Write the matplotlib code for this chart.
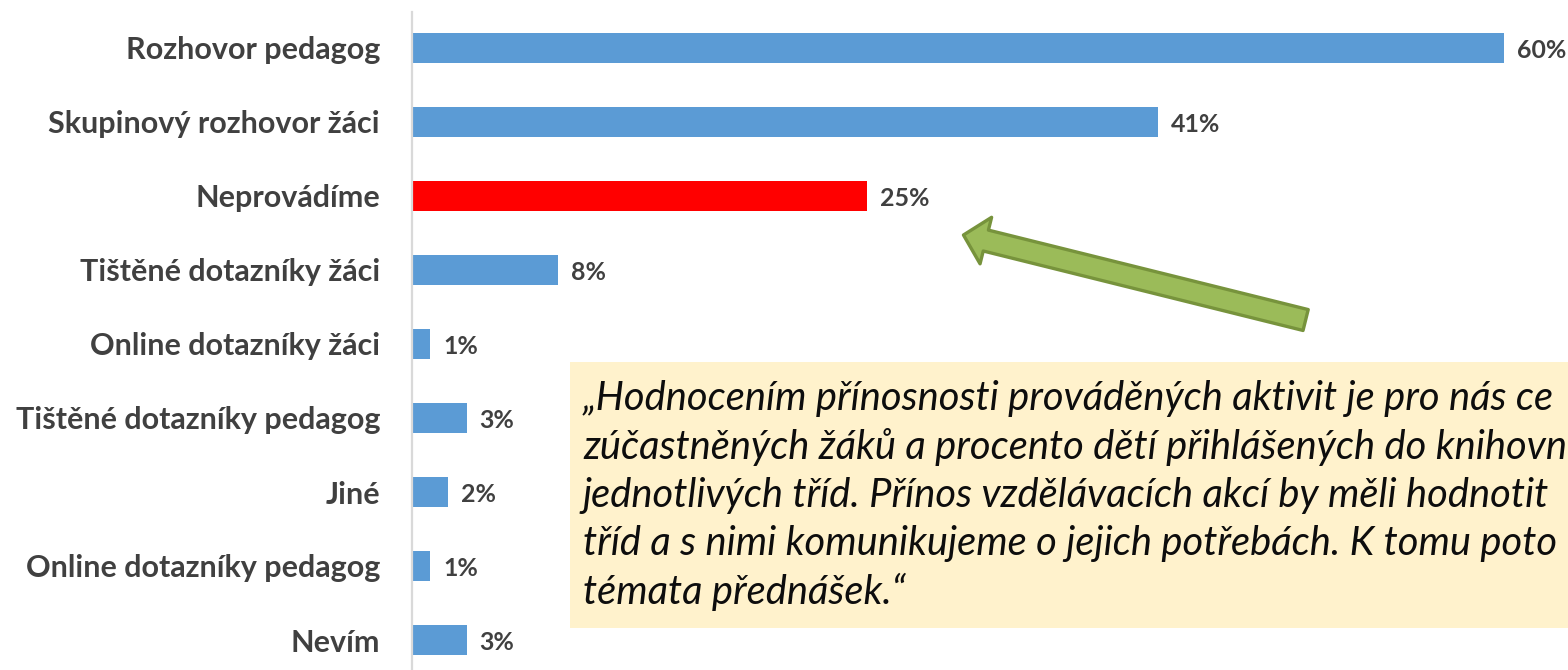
import matplotlib
matplotlib.use("Agg")
import matplotlib.pyplot as plt
from matplotlib.patches import Rectangle

# ---------------- data ----------------
categories = [
    "Rozhovor pedagog",
    "Skupinový rozhovor žáci",
    "Neprovádíme",
    "Tištěné dotazníky žáci",
    "Online dotazníky žáci",
    "Tištěné dotazníky pedagog",
    "Jiné",
    "Online dotazníky pedagog",
    "Nevím",
]
values = [60, 41, 25, 8, 1, 3, 2, 1, 3]
highlight = "Neprovádíme"

quote_lines = [
    "„Hodnocením přínosnosti prováděných aktivit je pro nás ce",
    "zúčastněných žáků a procento dětí přihlášených do knihovn",
    "jednotlivých tříd. Přínos vzdělávacích akcí by měli hodnotit",
    "tříd a s nimi komunikujeme o jejich potřebách. K tomu poto",
    "témata přednášek.“",
]

# ---------------- layout ----------------
W, H, DPI = 1568, 670, 100
FONT = "Lato"
LABEL_COLOR = "#404040"
BLUE = "#5B9BD5"
RED = "#FF0000"

fig = plt.figure(figsize=(W / DPI, H / DPI), dpi=DPI)
fig.patch.set_facecolor("white")
renderer = fig.canvas.get_renderer()


def fit_size(txt, target_px, **kw):
    t = fig.text(0, 0, txt, fontsize=20, family=FONT, **kw)
    w = t.get_window_extent(renderer=renderer).width
    t.remove()
    return 20 * target_px / w


label_fs = fit_size("Tištěné dotazníky pedagog", 365, fontweight="bold")
value_fs = fit_size("60%", 44, fontweight="bold") * 1.12
quote_fs = fit_size(quote_lines[2], 964, fontstyle="italic")

ax = fig.add_axes([412 / W, 0, (W - 412) / W, (H - 12) / H])
ypos = list(range(len(categories)))
colors = [RED if c == highlight else BLUE for c in categories]
ax.barh(ypos, values, height=30 / 74, color=colors, zorder=2)

ax.set_xlim(0, (W - 412) / 18.2)
ax.set_ylim(len(categories) - 1 + 30 / 74, -36 / 74)

for s in ("top", "right", "bottom"):
    ax.spines[s].set_visible(False)
ax.spines["left"].set_color("#D9D9D9")
ax.spines["left"].set_linewidth(1.6)
ax.set_xticks([])
ax.set_yticks(ypos)
ax.set_yticklabels(categories, family=FONT, fontweight="bold",
                   fontsize=label_fs, color=LABEL_COLOR)
ax.tick_params(axis="y", length=0, pad=32 * 72 / DPI)

for i, v in enumerate(values):
    ax.annotate(f"{v}%", xy=(v, i), xytext=(13 * 72 / DPI, -1.5),
                textcoords="offset points", va="center", ha="left",
                family=FONT, fontweight="bold", fontsize=value_fs,
                color=LABEL_COLOR)

# quote box
box = Rectangle((570 / W, 1 - 628 / H), (W - 570) / W + 0.05, (628 - 362) / H,
                transform=fig.transFigure, facecolor="#FFF2CC",
                edgecolor="none", zorder=5)
fig.add_artist(box)
for k, line in enumerate(quote_lines):
    base = 410 + 48.5 * k
    fig.text(583 / W, 1 - base / H, line, family=FONT, fontstyle="italic",
             fontsize=quote_fs, color="#0D0D0D", va="baseline", ha="left",
             zorder=6)

# green arrow pointing at the highlighted bar label
ax.annotate("", xy=(30.3, 2.527), xytext=(49.1, 3.676),
            arrowprops=dict(arrowstyle="simple,head_length=1.66,head_width=3.45,tail_width=1.55",
                            mutation_scale=10, facecolor="#9BBB59",
                            edgecolor="#77933C", linewidth=2.4,
                            shrinkA=0, shrinkB=0),
            zorder=7)

fig.savefig("out.png", dpi=DPI)
